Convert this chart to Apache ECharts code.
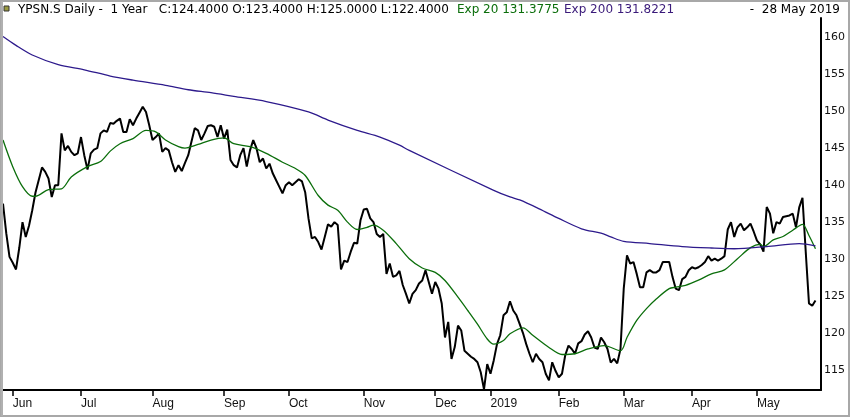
<!DOCTYPE html>
<html>
<head>
<meta charset="utf-8">
<script src="https://cdn.jsdelivr.net/npm/echarts@6/dist/echarts.min.js"></script>
<style>
html,body{margin:0;padding:0;background:#fff;}
#chart{width:850px;height:417px;}
</style>
</head>
<body>
<div id="chart"></div>
<script>
// Month-start trading-day indices (first trading day of each month) and labels
const monthTickIdx = [3, 24, 46, 68, 88, 111, 133, 150, 171, 191, 212, 232];
const monthLabels  = ['Jun','Jul','Aug','Sep','Oct','Nov','Dec','2019','Feb','Mar','Apr','May'];
const yTicks = [115,120,125,130,135,140,145,150,155,160];

// Daily close, one value per trading day (29 May 2018 .. 28 May 2019)
const closePrice = [
137.5,133.5,130.3,129.5,128.6,131.5,135.0,133.0,134.5,136.6,
139.0,140.7,142.4,141.8,140.9,138.4,140.0,140.0,147.0,144.7,
145.3,144.5,144.05,144.3,146.5,144.05,142.1,144.3,144.8,145.0,
147.0,147.4,147.2,148.4,148.3,148.7,149.0,147.2,147.2,148.9,
148.1,149.0,149.8,150.6,149.9,148.1,146.1,146.5,147.0,144.5,
145.0,144.7,143.1,141.8,142.7,141.9,143.0,144.05,145.9,147.7,
147.4,146.1,147.0,148.0,148.1,147.9,146.5,148.1,146.3,147.5,
143.4,142.7,142.4,144.05,145.0,142.5,144.7,146.1,145.0,143.1,
143.6,142.25,142.9,141.6,140.7,139.8,138.9,140.0,140.4,140.0,
140.4,140.8,140.5,139.0,135.5,132.8,133.0,132.3,131.3,133.0,
134.7,134.4,135.0,134.6,128.6,129.8,129.6,131.0,132.2,132.1,
135.25,136.7,136.8,135.5,135.0,133.4,133.0,133.4,128.0,129.4,
127.6,127.8,128.4,126.5,125.3,124.0,125.3,125.8,126.7,127.1,
128.5,126.9,125.3,126.9,126.0,124.0,119.4,121.5,116.5,118.1,
121.0,120.35,117.6,117.2,116.8,116.5,116.05,114.7,112.4,115.8,
114.5,116.3,118.5,119.7,122.4,122.8,124.3,123.05,122.4,121.2,
120.0,118.5,117.2,116.05,117.2,116.5,116.05,114.5,113.6,116.05,
114.9,114.0,114.5,117.0,118.3,117.85,117.2,118.6,118.9,119.8,
120.25,119.4,118.05,117.85,119.4,118.75,117.85,116.0,116.5,115.9,
117.85,126.0,130.5,129.4,129.6,128.0,126.2,126.2,128.2,128.5,
128.2,128.2,128.5,129.6,129.6,129.6,127.6,126.0,125.8,127.3,
127.6,128.5,128.9,128.7,128.9,129.2,129.6,130.4,129.8,130.05,
129.8,130.05,130.4,134.0,135.0,133.0,134.3,134.8,133.9,134.3,
134.8,133.7,132.5,132.0,131.0,137.05,136.15,133.5,135.0,134.8,
135.7,135.8,135.9,136.15,134.3,137.0,138.3,131.0,124.0,123.7,124.4
];

// Exp 20 readings: [trading-day index, value]
const exp20 = [
[0,146.1],[3,142.5],[6,139.8],[9,138.5],[10,138.5],[14,139.4],[18,139.5],[21,141.1],[26,142.5],
[30,143.2],[33,144.6],[36,145.6],[40,146.3],[44,147.4],[47,147.2],[50,146.1],[54,145.2],[56,145.0],
[60,145.5],[64,146.1],[68,146.4],[71,145.6],[76,145.2],[81,144.3],[86,143.1],[90,142.25],[93,141.3],
[97,138.6],[100,137.3],[103,136.6],[106,135.0],[109,134.0],[112,134.3],[114,134.6],[117,133.9],
[121,132.1],[125,130.05],[129,128.8],[133,128.2],[136,127.1],[140,124.85],[143,123.05],[146,121.2],
[149,119.2],[151,118.5],[154,119.0],[156,119.9],[160,120.7],[163,119.7],[168,118.05],[172,117.1],
[176,117.2],[180,117.85],[185,118.3],[190,117.6],[192,119.4],[195,121.7],[198,123.3],[201,124.6],
[205,126.0],[207,126.2],[210,126.45],[214,127.15],[218,128.0],[222,128.55],[226,130.05],[230,131.55],
[233,132.0],[234,131.7],[237,132.6],[240,133.05],[243,133.9],[246,134.7],[248,133.2],[250,131.4]
];

// Exp 200 readings: [trading-day index, value]
const exp200 = [
[0,160.1],[4,158.9],[9,157.6],[17,156.3],[25,155.6],[33,154.75],[40,154.2],[50,153.5],[57,152.9],
[64,152.5],[71,152.0],[81,151.3],[94,149.9],[100,148.8],[109,147.4],[116,146.5],[122,145.4],[125,144.7],
[151,139.3],[156,138.4],[159,138.0],[165,136.8],[171,135.5],[178,134.1],[184,133.5],[187,133.0],
[191,132.4],[199,132.1],[209,131.7],[218,131.5],[225,131.4],[235,131.7],[245,132.1],[250,131.8]
];

const headerMain = 'YPSN.S Daily -  1 Year   C:124.4000 O:123.4000 H:125.0000 L:122.4000';
const headerExp20 = 'Exp 20 131.3775';
const headerExp200 = 'Exp 200 131.8221';
const headerDate = '-  28 May 2019';

const chart = echarts.init(document.getElementById('chart'));
const hdrFont = '12px "DejaVu Sans", Verdana, sans-serif';

chart.setOption({
  animation: false,
  backgroundColor: '#ffffff',
  grid: { left: 3, right: 29, top: 18, bottom: 27, containLabel: false },
  xAxis: {
    type: 'value',
    min: 0,
    max: 251.7,
    splitLine: { show: false },
    axisLine: { show: true, onZero: false, lineStyle: { color: '#000', width: 2 } },
    axisTick: { show: true, customValues: monthTickIdx, length: 6, inside: false,
      lineStyle: { color: '#000', width: 1.5 } },
    axisLabel: {
      customValues: monthTickIdx,
      formatter: function (v) { const k = monthTickIdx.indexOf(Math.round(v)); return k >= 0 ? monthLabels[k] : ''; },
      align: 'left',
      margin: 8,
      color: '#111',
      fontSize: 12,
      fontFamily: '"Liberation Sans Narrow", "Liberation Sans", Arial, sans-serif'
    }
  },
  yAxis: {
    type: 'value',
    position: 'right',
    min: 112.3,
    max: 162.6,
    splitLine: { show: false },
    axisLine: { show: true, onZero: false, lineStyle: { color: '#000', width: 2 } },
    axisTick: { show: false },
    axisLabel: {
      customValues: yTicks,
      margin: 3,
      color: '#111',
      fontSize: 11,
      fontFamily: '"DejaVu Sans", Verdana, sans-serif'
    }
  },
  series: [
    {
      name: 'Close', type: 'line', symbol: 'none',
      data: closePrice.map(function (v, i) { return [i, v]; }),
      lineStyle: { color: '#000000', width: 2 }, z: 2
    },
    {
      name: 'Exp 20', type: 'line', symbol: 'none', smooth: 0.3,
      data: exp20,
      lineStyle: { color: '#0b6e0b', width: 1.3 }, z: 3
    },
    {
      name: 'Exp 200', type: 'line', symbol: 'none', smooth: 0.3,
      data: exp200,
      lineStyle: { color: '#2d1a8c', width: 1.3 }, z: 3
    }
  ],
  graphic: [
    { type: 'rect', shape: { x: 1, y: 1, width: 848, height: 415 },
      style: { fill: 'none', stroke: '#a8a8a8', lineWidth: 2 }, z: 100, silent: true },
    { type: 'rect', shape: { x: 1, y: 1, width: 2, height: 415 },
      style: { fill: '#b0b0b0' }, z: 100, silent: true },
    { type: 'rect', shape: { x: 4, y: 6, width: 5, height: 5 },
      style: { fill: '#9a9a40', stroke: '#333', lineWidth: 1 }, z: 100 },
    { type: 'text', left: 18, top: 4,
      style: { text: headerMain, font: hdrFont, fill: '#000' }, z: 100 },
    { type: 'text', left: 457, top: 4,
      style: { text: headerExp20, font: hdrFont, fill: '#0b6e0b' }, z: 100 },
    { type: 'text', left: 564, top: 4,
      style: { text: headerExp200, font: hdrFont, fill: '#3a1a7a' }, z: 100 },
    { type: 'text', right: 10, top: 4,
      style: { text: headerDate, font: hdrFont, fill: '#000' }, z: 100 }
  ]
});
</script>
</body>
</html>
